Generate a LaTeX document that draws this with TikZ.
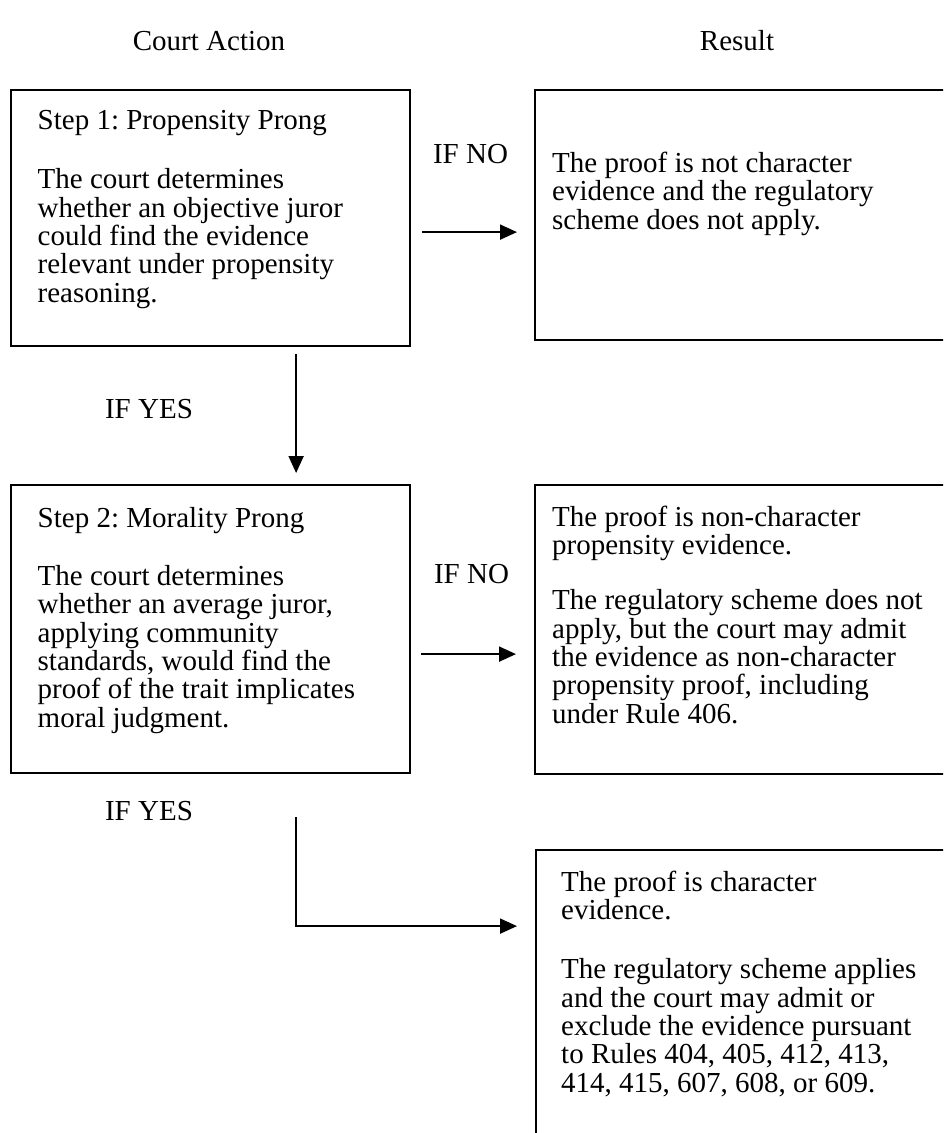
\documentclass[tikz,border=0pt]{standalone}
\usepackage{fontspec}
\setmainfont{Liberation Serif}
\usetikzlibrary{arrows.meta}
\frenchspacing
\begin{document}
\begin{tikzpicture}[x=1pt,y=-1pt,
  box/.style={draw, line width=2.2pt, inner sep=0pt, anchor=north west},
  txt/.style={anchor=base west, align=left, inner sep=0pt, font=\fontsize{29}{28.3}\selectfont\frenchspacing},
  lbl/.style={anchor=base, inner sep=0pt, font=\fontsize{29}{28.3}\selectfont},
  arr/.style={line width=1.9pt, -{Triangle[length=17pt,width=15pt]}}]
\useasboundingbox (0,0) rectangle (943,1133);
\clip (0,0) rectangle (943,1133);
\fill[white] (0,0) rectangle (943,1133);

\node[lbl] (hca) at (209,50) {Court Action};
\node[lbl] (hres) at (737,50) {Result};

\node[box, minimum width=399pt, minimum height=256pt] (b1) at (10,89) {};
\node[box, minimum width=430pt, minimum height=250pt] (r1) at (534,89) {};
\node[box, minimum width=399pt, minimum height=288pt] (b2) at (10,484) {};
\node[box, minimum width=430pt, minimum height=289pt] (r2) at (534,484) {};
\node[box, minimum width=430pt, minimum height=320pt] (r3) at (535,849) {};

% text nodes are placed by the baseline of their last line
\node[txt] (t1) at (37.5,302) {Step 1: Propensity Prong\\[30.7pt]
The court determines\\
whether an objective juror\\
could find the evidence\\
relevant under propensity\\
reasoning.};
\node[txt] (t2) at (37.5,727) {Step 2: Morality Prong\\[29.7pt]
The court determines\\
whether an average juror,\\
applying community\\
standards, would find the\\
proof of the trait implicates\\
moral judgment.};
\node[txt] (tr1) at (552,229) {The proof is not character\\
evidence and the regulatory\\
scheme does not apply.};
\node[txt] (tr2) at (552,723) {The proof is non-character\\
propensity evidence.\\[27pt]
The regulatory scheme does not\\
apply, but the court may admit\\
the evidence as non-character\\
propensity proof, including\\
under Rule 406.};
\node[txt] (tr3) at (561,1092) {The proof is character\\
evidence.\\[30.7pt]
The regulatory scheme applies\\
and the court may admit or\\
exclude the evidence pursuant\\
to Rules 404, 405, 412, 413,\\
414, 415, 607, 608, or 609.};

\node[lbl] (no1) at (470.5,163) {IF NO};
\node[lbl] (no2) at (471.5,583) {IF NO};
\node[lbl] (yes1) at (149,418) {IF YES};
\node[lbl] (yes2) at (149,820) {IF YES};

\draw[arr] ([xshift=11pt,yshift=-14pt]b1.east) -- ([xshift=-17pt,yshift=-14pt]b1.east -| r1.west);
\draw[arr] ([xshift=10pt,yshift=-25pt]b2.east) -- ([xshift=-18pt,yshift=-25pt]b2.east -| r2.west);
\draw[arr] ([xshift=85.5pt,yshift=-7pt]b1.south) -- ([xshift=85.5pt,yshift=11pt]b2.north);
\draw[arr] ([xshift=85.5pt,yshift=-43pt]b2.south) |- ([xshift=-18pt,yshift=84pt]r3.west);
\end{tikzpicture}
\end{document}
